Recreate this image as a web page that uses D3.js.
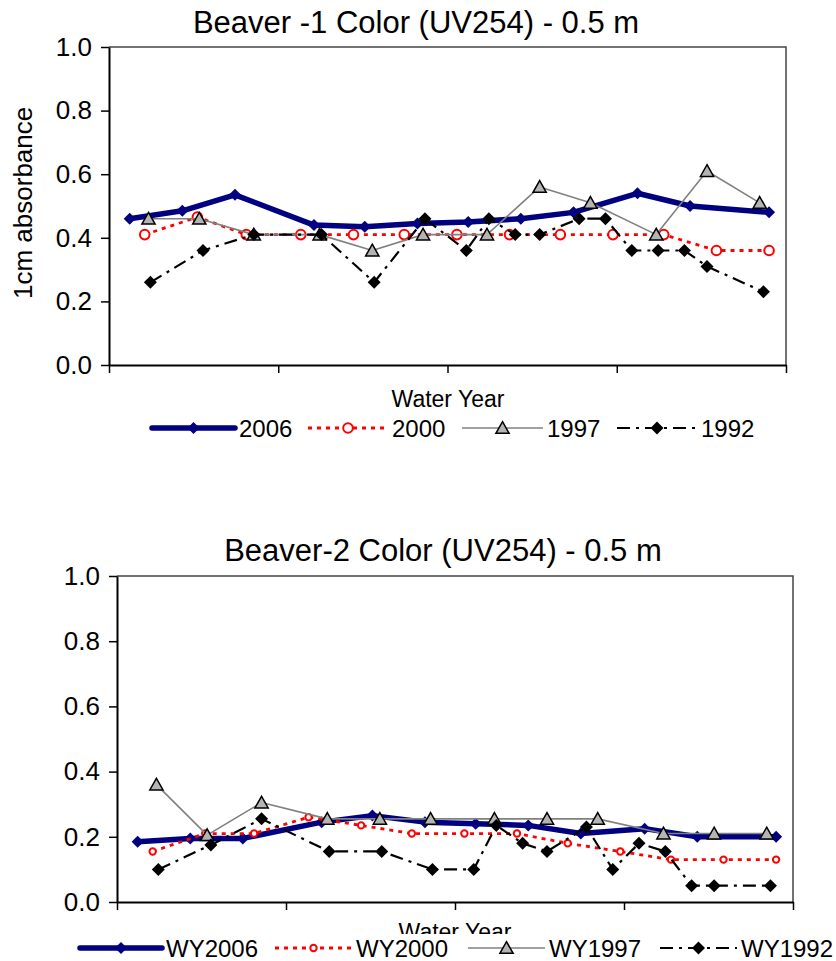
<!DOCTYPE html>
<html>
<head>
<meta charset="utf-8">
<script src="https://cdn.jsdelivr.net/npm/d3@7"></script>
<style>
  body { margin: 0; background: #fff; }
  svg { display: block; }
  text { font-family: "Liberation Sans", Arial, sans-serif; fill: #000; }
</style>
</head>
<body>
<svg id="chart" width="836" height="961"></svg>
<script>
// Sampling day within the water year (day 0 = October 1)
const days2006 = [11, 39, 67, 109, 136, 164, 191, 219, 247, 281, 309, 351];
const days2000 = [19, 47, 73, 102, 130, 157, 185, 213, 240, 268, 295, 323, 351];
const days1997 = [21, 48, 77, 112, 140, 167, 201, 229, 256, 291, 318, 346];
const days1992 = [22, 50, 77, 113, 141, 168, 190, 202, 216, 229, 250, 264, 278, 292, 306, 318, 348];

// Beaver-1, 0.5 m, UV254 (1 cm absorbance)
const beaver1_2006 = [0.46, 0.485, 0.535, 0.44, 0.435, 0.445, 0.45, 0.46, 0.48, 0.54, 0.50, 0.48];
const beaver1_2000 = [0.41, 0.465, 0.41, 0.41, 0.41, 0.41, 0.41, 0.41, 0.41, 0.41, 0.41, 0.36, 0.36];
const beaver1_1997 = [0.46, 0.46, 0.41, 0.41, 0.36, 0.41, 0.41, 0.56, 0.51, 0.41, 0.61, 0.51];
const beaver1_1992 = [0.26, 0.36, 0.41, 0.41, 0.26, 0.46, 0.36, 0.46, 0.41, 0.41, 0.46, 0.46, 0.36, 0.36, 0.36, 0.31, 0.23];

// Beaver-2, 0.5 m, UV254
const beaver2_2006 = [0.185, 0.195, 0.195, 0.245, 0.265, 0.245, 0.24, 0.235, 0.21, 0.225, 0.20, 0.20];
const beaver2_2000 = [0.155, 0.21, 0.21, 0.26, 0.235, 0.21, 0.21, 0.21, 0.18, 0.155, 0.13, 0.13, 0.13];
const beaver2_1997 = [0.36, 0.205, 0.305, 0.255, 0.255, 0.255, 0.255, 0.255, 0.255, 0.21, 0.21, 0.21];
const beaver2_1992 = [0.10, 0.175, 0.255, 0.155, 0.155, 0.10, 0.10, 0.235, 0.18, 0.155, 0.23, 0.10, 0.18, 0.155, 0.05, 0.05, 0.05];

const legend1Labels = ["2006", "2000", "1997", "1992"];
const legend2Labels = ["WY2006", "WY2000", "WY1997", "WY1992"];
const yTickValues = [0, 0.2, 0.4, 0.6, 0.8, 1.0];
const xTickValues = [0, 90, 180, 270, 360];

const svg = d3.select("#chart");
const FONT = '"Liberation Sans", Arial, sans-serif';

// Marker shapes
const diamondPath = h => `M0,${-h}L${h},0L0,${h}L${-h},0Z`;
const trianglePath = s => `M0,${-s}L${s * 1.05},${s * 0.85}L${-s * 1.05},${s * 0.85}Z`;

function styles(circleR) {
  return [
    { key: "2006", stroke: "#000080", width: 5.5, dash: null,
      marker: g => g.append("path").attr("d", diamondPath(6)).attr("fill", "#000080") },
    { key: "2000", stroke: "#ff0000", width: 2.8, dash: "4,5",
      marker: g => g.append("circle").attr("r", circleR).attr("fill", "#fff")
                   .attr("stroke", "#ff0000").attr("stroke-width", 2) },
    { key: "1997", stroke: "#808080", width: 1.6, dash: null,
      marker: g => g.append("path").attr("d", trianglePath(6.3)).attr("fill", "#b4b4b4")
                   .attr("stroke", "#000").attr("stroke-width", 1.5) },
    { key: "1992", stroke: "#000", width: 2.2, dash: "13,6,3,6",
      marker: g => g.append("path").attr("d", diamondPath(6.5)).attr("fill", "#000") }
  ];
}

function drawPanel(p) {
  const x = d3.scaleLinear().domain([0, 360]).range([p.left, p.right]);
  const y = d3.scaleLinear().domain([0, 1]).range([p.bottom, p.top]);
  const g = svg.append("g");

  // title
  g.append("text").attr("x", p.titleX).attr("y", p.titleY)
    .attr("text-anchor", "middle").style("font-size", "31px").text(p.title);

  // plot frame (top and right)
  g.append("path")
    .attr("d", `M${p.left},${p.top}H${p.right}V${p.bottom}`)
    .attr("fill", "none").attr("stroke", "#444").attr("stroke-width", 1.5);

  // y axis
  const ya = g.append("g").attr("transform", `translate(${p.left},0)`)
    .call(d3.axisLeft(y).tickValues(yTickValues).tickFormat(d3.format(".1f"))
      .tickSize(8).tickSizeOuter(0).tickPadding(9));
  ya.select(".domain").attr("stroke", "#000").attr("stroke-width", 2);
  ya.selectAll(".tick line").attr("stroke", "#000").attr("stroke-width", 1.5);
  ya.selectAll(".tick text").style("font-size", "26px").style("font-family", FONT).attr("fill", "#000");

  // x axis (unlabelled ticks)
  const xa = g.append("g").attr("transform", `translate(0,${p.bottom})`)
    .call(d3.axisBottom(x).tickValues(xTickValues).tickFormat("").tickSize(8).tickSizeOuter(0));
  xa.select(".domain").attr("stroke", "#000").attr("stroke-width", 2);
  xa.selectAll(".tick line").attr("stroke", "#000").attr("stroke-width", 1.5);

  // y axis title
  const clipId = "clip-" + p.id;
  svg.append("clipPath").attr("id", clipId).append("rect")
    .attr("x", 0).attr("y", p.yLabelClipTop).attr("width", 60).attr("height", 400);
  g.append("g").attr("clip-path", `url(#${clipId})`)
    .append("text")
    .attr("transform", `translate(${p.yLabelX},${p.yLabelY}) rotate(-90)`)
    .attr("text-anchor", p.yLabelAnchor).style("font-size", p.yLabelSize)
    .text(p.yLabel);

  // x axis title
  g.append("text").attr("x", p.xTitleX).attr("y", p.xTitleY)
    .attr("text-anchor", "middle").style("font-size", "23px").text("Water Year");

  // series
  const st = styles(p.circleR);
  const line = d3.line().x(d => x(d.day)).y(d => y(d.v));
  p.series.forEach((s, i) => {
    const pts = s.days.map((d, k) => ({ day: d, v: s.values[k] }));
    const sty = st[i];
    g.append("path").datum(pts).attr("d", line)
      .attr("fill", "none").attr("stroke", sty.stroke).attr("stroke-width", sty.width)
      .attr("stroke-dasharray", sty.dash).attr("stroke-linejoin", "round");
    pts.forEach(pt => {
      const m = g.append("g").attr("transform", `translate(${x(pt.day)},${y(pt.v)})`);
      sty.marker(m);
    });
  });

  // legend
  const lg = g.append("g");
  if (p.legendBox) {
    lg.append("rect").attr("x", p.legendBox[0]).attr("y", p.legendBox[1])
      .attr("width", p.legendBox[2]).attr("height", p.legendBox[3]).attr("fill", "#fff");
  }
  p.legendLabels.forEach((lab, i) => {
    const sty = st[i];
    const x0 = p.legendX[i];
    const len = p.sampleLen[i];
    const cy = p.legendY;
    lg.append("line").attr("x1", x0).attr("x2", x0 + len).attr("y1", cy).attr("y2", cy)
      .attr("stroke", sty.stroke).attr("stroke-width", sty.width)
      .attr("stroke-dasharray", sty.dash).attr("stroke-linecap", i === 0 ? "round" : "butt");
    const m = lg.append("g").attr("transform", `translate(${x0 + len / 2},${cy})`);
    sty.marker(m);
    lg.append("text").attr("x", x0 + len + 4).attr("y", cy + 9)
      .style("font-size", "24px").text(lab);
  });
}

drawPanel({
  id: "b1", left: 109, right: 786, top: 47, bottom: 365,
  title: "Beaver -1 Color (UV254) - 0.5 m", titleX: 416, titleY: 33,
  yLabel: "1cm absorbance", yLabelX: 32, yLabelY: 299, yLabelAnchor: "start",
  yLabelSize: "26px", yLabelClipTop: 108,
  xTitleX: 448, xTitleY: 407,
  circleR: 4.8,
  series: [
    { days: days2006, values: beaver1_2006 },
    { days: days2000, values: beaver1_2000 },
    { days: days1997, values: beaver1_1997 },
    { days: days1992, values: beaver1_1992 }
  ],
  legendLabels: legend1Labels, legendX: [152, 308, 462, 617], legendY: 428,
  sampleLen: [83, 80, 81, 80],
  legendBox: null
});

drawPanel({
  id: "b2", left: 117, right: 793, top: 576, bottom: 902,
  title: "Beaver-2 Color (UV254) - 0.5 m", titleX: 443, titleY: 561,
  yLabel: "ug/L", yLabelX: 44, yLabelY: 747, yLabelAnchor: "middle",
  yLabelSize: "22px", yLabelClipTop: 0,
  xTitleX: 455, xTitleY: 940,
  circleR: 3.2,
  series: [
    { days: days2006, values: beaver2_2006 },
    { days: days2000, values: beaver2_2000 },
    { days: days1997, values: beaver2_1997 },
    { days: days1992, values: beaver2_1992 }
  ],
  legendLabels: legend2Labels, legendX: [80, 275, 468, 660], legendY: 948,
  sampleLen: [82, 77, 77, 77],
  legendBox: [70, 934, 766, 27]
});
</script>
</body>
</html>
